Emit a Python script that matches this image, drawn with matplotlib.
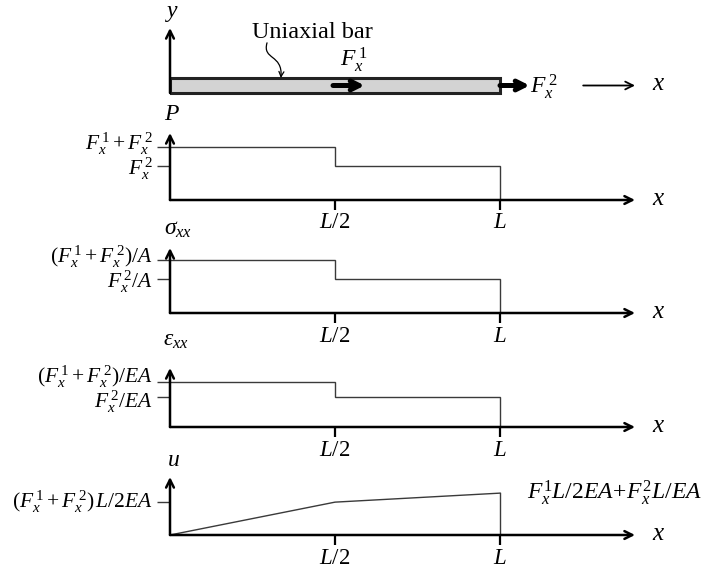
import matplotlib
matplotlib.use("Agg")
import matplotlib.pyplot as plt
from matplotlib.patches import Rectangle, FancyArrowPatch
from matplotlib.path import Path

plt.rcParams["font.family"] = ["Liberation Serif", "DejaVu Serif"]
plt.rcParams["mathtext.fontset"] = "custom"
plt.rcParams["mathtext.rm"] = "Liberation Serif"
plt.rcParams["mathtext.it"] = "Liberation Serif:italic"
plt.rcParams["mathtext.bf"] = "Liberation Serif:bold"

# ---------------------------------------------------------------- data
# positions along the bar, in units of the bar length L
x_nodes = [0.0, 0.5, 1.0]
x_tick_labels = ["$L/2$", "$L$"]

# piecewise constant diagrams: value on [0, L/2] and on [L/2, L]
axial_force = [1.0, 0.64]
axial_stress = [1.0, 0.64]
axial_strain = [0.85, 0.57]
# displacement at x = 0, L/2, L
displacement = [0.0, 0.62, 0.79]

force_ticks = ["$F_x^{\\,1}+F_x^{\\,2}$", "$F_x^{\\,2}$"]
stress_ticks = ["$(F_x^{\\,1}+F_x^{\\,2})/A$", "$F_x^{\\,2}/A$"]
strain_ticks = ["$(F_x^{\\,1}+F_x^{\\,2})/EA$", "$F_x^{\\,2}/EA$"]
disp_ticks = ["$(F_x^{\\,1}+F_x^{\\,2})\\,L/2EA$"]
disp_end_label = "$F_x^{1}L/2EA\\!+\\!F_x^{2}L/EA$"

# ---------------------------------------------------------------- layout
W, H = 716, 573
fig = plt.figure(figsize=(W / 100, H / 100), dpi=100)

X0_PX, XL_PX, XR_PX = 170, 500, 640      # origin, x = L, right edge (pixels)
PX_PER_L = XL_PX - X0_PX                  # pixels per bar length
PX_PER_UNIT = 53                          # pixels per unit of diagram value
XMAX = (XR_PX - X0_PX) / PX_PER_L
X_ARROW = (635 - X0_PX) / PX_PER_L
X_LABEL = (659 - X0_PX) / PX_PER_L

AX_LW = 1.8
LINE_C = "#3a3a3a"
XTXT = 16.5
YTXT = 15.5
YTICK_LEN = 13          # pixels
PT = 72 / 100           # points per pixel


def add_px_axes(left, top, right, bottom):
    return fig.add_axes([left / W, 1 - bottom / H, (right - left) / W, (bottom - top) / H])


def arrow(ax, x0, y0, x1, y1, lw=AX_LW, scale=14):
    ax.annotate("", xy=(x1, y1), xytext=(x0, y0),
                arrowprops=dict(arrowstyle="->", lw=lw, color="black",
                                shrinkA=0, shrinkB=0, mutation_scale=scale),
                annotation_clip=False)


# ---------------------------------------------------------------- bar sketch
top_ax = add_px_axes(X0_PX, 0, XR_PX, 105)
top_ax.set_xlim(0, XMAX)
top_ax.set_ylim(-12 / PX_PER_L, 93 / PX_PER_L)
top_ax.axis("off")

bar_h = 15 / PX_PER_L
mid = bar_h / 2
top_ax.add_patch(Rectangle((x_nodes[0], 0), x_nodes[2] - x_nodes[0], bar_h,
                           facecolor="#d3d3d3", edgecolor="#222222", lw=2.2))
arrow(top_ax, 0, 0, 0, 65 / PX_PER_L)
top_ax.text(0.006, 80 / PX_PER_L, "$y$", fontsize=17, ha="center", va="center")

# applied forces at L/2 and at L
arrow(top_ax, x_nodes[1] - 0.006, mid, x_nodes[1] + 0.09, mid, lw=3.6, scale=16)
top_ax.text(x_nodes[1] + 0.055, 33 / PX_PER_L, "$F_x^{\\,1}$", fontsize=17,
            ha="center", va="center")
arrow(top_ax, x_nodes[2], mid, x_nodes[2] + 0.09, mid, lw=3.6, scale=16)
top_ax.text(x_nodes[2] + 0.092, mid - 0.004, "$F_x^{\\,2}$", fontsize=17,
            ha="left", va="center")

arrow(top_ax, 1.252, mid, X_ARROW, mid, lw=1.3, scale=14)
top_ax.text(X_LABEL, mid + 0.005, "$x$", fontsize=18, ha="center", va="center")

top_ax.text(0.43, 61 / PX_PER_L, "Uniaxial bar", fontsize=17.5, ha="center", va="center")
pointer = Path([(0.294, 0.152), (0.279, 0.100), (0.342, 0.118), (0.336, bar_h)],
               [Path.MOVETO, Path.CURVE4, Path.CURVE4, Path.CURVE4])
top_ax.add_patch(FancyArrowPatch(path=pointer, arrowstyle="->", lw=0.9,
                                 color="black", mutation_scale=9))

# ---------------------------------------------------------------- diagrams
panels = [
    dict(origin=200, top=133, name="$P$", name_y=114, name_x=172),
    dict(origin=313, top=248, name="$\\sigma_{xx}$", name_y=229, name_x=178),
    dict(origin=427, top=368, name="$\\varepsilon_{xx}$", name_y=341, name_x=176),
    dict(origin=535, top=477, name="$u$", name_y=460, name_x=173),
]


def setup_panel(p):
    ax = add_px_axes(X0_PX, p["top"], XR_PX, p["origin"])
    ymax = (p["origin"] - p["top"]) / PX_PER_UNIT
    ax.set_xlim(0, XMAX)
    ax.set_ylim(0, ymax)
    ax.patch.set_alpha(0)
    for s in ax.spines.values():
        s.set_visible(False)
    arrow(ax, 0, 0, X_ARROW, 0)
    arrow(ax, 0, 0, 0, ymax)
    ax.text(X_LABEL, 0.01, "$x$", fontsize=18, ha="center", va="center")
    ax.text((p["name_x"] - X0_PX) / PX_PER_L,
            ymax + (p["top"] - p["name_y"]) / PX_PER_UNIT,
            p["name"], fontsize=17, ha="center", va="center")
    ax.set_xticks(x_nodes[1:])
    ax.set_xticklabels(x_tick_labels, fontsize=XTXT)
    ax.tick_params(axis="x", direction="out", length=7, width=1.6, pad=2)
    ax.tick_params(axis="y", direction="out", length=YTICK_LEN * PT, width=1.0,
                   color=LINE_C, labelleft=False)
    return ax


def value_labels(ax, levels, labels, shifts, size=YTXT):
    """Label the value ticks on the vertical axis; shifts are in pixels."""
    ax.set_yticks(levels)
    for v, text, dy in zip(levels, labels, shifts):
        ax.annotate(text, xy=(0, v), xytext=(-(YTICK_LEN + 4) * PT, dy * PT),
                    textcoords="offset points", ha="right", va="center",
                    fontsize=size, annotation_clip=False)


def step_diagram(ax, levels, labels, shifts):
    xs = [x_nodes[0], x_nodes[1], x_nodes[1], x_nodes[2], x_nodes[2]]
    ys = [levels[0], levels[0], levels[1], levels[1], 0.0]
    ax.plot(xs, ys, color=LINE_C, lw=1.0, solid_joinstyle="miter")
    value_labels(ax, levels, labels, shifts)


ax1 = setup_panel(panels[0])
step_diagram(ax1, axial_force, force_ticks, (3, -3))

ax2 = setup_panel(panels[1])
step_diagram(ax2, axial_stress, stress_ticks, (3, -3))

ax3 = setup_panel(panels[2])
step_diagram(ax3, axial_strain, strain_ticks, (5, -5))

ax4 = setup_panel(panels[3])
ax4.plot(x_nodes, displacement, color=LINE_C, lw=1.0)
ax4.plot([x_nodes[2], x_nodes[2]], [displacement[2], 0.0], color=LINE_C, lw=1.0)
value_labels(ax4, [displacement[1]], disp_ticks, (0,), size=15.5)
ax4.text((527 - X0_PX) / PX_PER_L, displacement[2], disp_end_label,
         fontsize=17, ha="left", va="center")

fig.savefig("out.png", dpi=100)
